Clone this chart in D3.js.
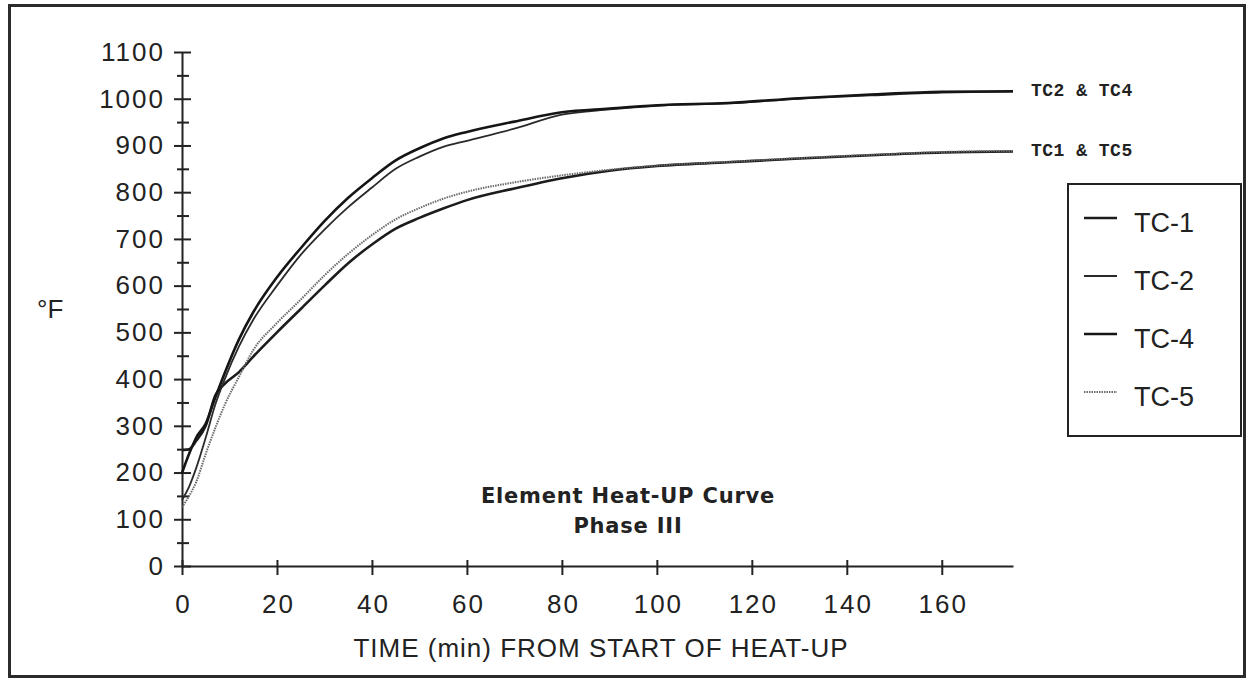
<!DOCTYPE html>
<html>
<head>
    <title>Element Heat-UP Curve</title>
    <script src="https://cdn.jsdelivr.net/npm/d3@7"></script>
    <style>
    body { margin: 0; background: #fff; }
    .axis path, .axis line { stroke: #222; stroke-width: 2; }
    .tick text { font-family: "Liberation Sans", Arial, sans-serif; fill: #222; }
    </style>
</head>
<body>
<div id="canvas"></div>

<script>
    // minutes from start of heat-up, shared by all four thermocouples
    var times = [0, 1.5, 3, 5, 7, 9, 12, 15, 20, 25, 30, 35, 40, 45, 50, 55, 60, 70, 80, 90, 100, 115, 130, 145, 160, 175];

    // temperatures in deg F
    var tc1 = [248, 250, 268, 300, 365, 390, 415, 448, 500, 550, 600, 648, 688, 722, 745, 765, 783, 808, 830, 846, 856, 864, 872, 879, 885, 887];
    var tc2 = [141, 170, 210, 275, 345, 400, 470, 527, 600, 666, 720, 768, 810, 850, 876, 897, 910, 936, 966, 977, 985, 990, 1000, 1007, 1013, 1015];
    var tc4 = [199, 240, 275, 305, 360, 413, 485, 543, 618, 680, 738, 788, 830, 868, 894, 915, 929, 951, 971, 979, 986, 991, 1001, 1009, 1015, 1016];
    var tc5 = [126, 150, 180, 240, 295, 345, 405, 462, 520, 570, 622, 668, 708, 742, 766, 786, 801, 821, 836, 848, 857, 865, 873, 880, 886, 888];

    var seriesNames = ["TC-1", "TC-2", "TC-4", "TC-5"];
    var seriesValues = [tc1, tc2, tc4, tc5];

    var xTicks = [0, 20, 40, 60, 80, 100, 120, 140, 160];
    var yTicks = [0, 100, 200, 300, 400, 500, 600, 700, 800, 900, 1000, 1100];
    var yMinorTicks = [50, 150, 250, 350, 450, 550, 650, 750, 850, 950, 1050];

    var notes = ["TC2 & TC4", "TC1 & TC5"];
    var noteValues = [1016, 888];

    var w = 1247;
    var h = 681;

    // line look for each thermocouple
    var styles = {
        "TC-1": { stroke: "#1c1c1c", width: 2.6, dash: null },
        "TC-2": { stroke: "#2a2a2a", width: 1.8, dash: null },
        "TC-4": { stroke: "#151515", width: 2.6, dash: null },
        "TC-5": { stroke: "#6a6a6a", width: 2, dash: "1.5,1" }
    };

    var svg = d3.select("#canvas")
        .append("svg")
        .attr("width", w)
        .attr("height", h);

    // outer frame
    svg.append("rect")
        .attr("x", 9.5).attr("y", 5.5)
        .attr("width", 1235).attr("height", 671)
        .attr("fill", "none")
        .attr("stroke", "#2b2b2b")
        .attr("stroke-width", 3);

    var x = d3.scaleLinear().domain([0, 175]).range([182, 1013]);
    var y = d3.scaleLinear().domain([0, 1100]).range([566, 52]);

    // y axis, ticks straddle the line
    var yAxis = svg.append("g")
        .attr("class", "axis")
        .attr("transform", "translate(" + x(0) + ",0)")
        .call(d3.axisLeft(y)
            .tickValues(yTicks.concat(yMinorTicks))
            .tickSizeInner(8)
            .tickSizeOuter(0)
            .tickPadding(11)
            .tickFormat(function(d) { return yTicks.indexOf(d) >= 0 ? d : ""; }));
    yAxis.selectAll(".tick line")
        .attr("x1", function(d) { return yTicks.indexOf(d) >= 0 ? 9 : 7; })
        .attr("x2", function(d) { return yTicks.indexOf(d) >= 0 ? -8 : -5; });
    yAxis.selectAll(".tick text")
        .attr("font-size", 26)
        .attr("letter-spacing", 2)
        .attr("dx", 2);

    // x axis
    var xAxis = svg.append("g")
        .attr("class", "axis")
        .attr("transform", "translate(0," + y(0) + ")")
        .call(d3.axisBottom(x)
            .tickValues(xTicks)
            .tickSizeInner(9)
            .tickSizeOuter(0)
            .tickPadding(20)
            .tickFormat(d3.format("d")));
    xAxis.selectAll(".tick line").attr("y1", -6);
    xAxis.selectAll(".tick text")
        .attr("font-size", 26)
        .attr("letter-spacing", 2)
        .attr("dx", 1);

    svg.append("text")
        .attr("x", 601).attr("y", 657)
        .attr("text-anchor", "middle")
        .attr("font-family", "Liberation Sans, Arial, sans-serif")
        .attr("font-size", 26)
        .attr("letter-spacing", 1)
        .attr("fill", "#222")
        .text("TIME (min) FROM START OF HEAT-UP");

    svg.append("text")
        .attr("x", 37).attr("y", 318)
        .attr("font-family", "Liberation Sans, Arial, sans-serif")
        .attr("font-size", 26)
        .attr("fill", "#222")
        .text("°F");

    // the curves
    var line = d3.line()
        .x(function(d) { return x(d[0]); })
        .y(function(d) { return y(d[1]); })
        .curve(d3.curveMonotoneX);

    svg.selectAll("path.curve")
        .data(seriesNames)
        .enter()
        .append("path")
        .attr("class", "curve")
        .attr("fill", "none")
        .attr("stroke", function(d) { return styles[d].stroke; })
        .attr("stroke-width", function(d) { return styles[d].width; })
        .attr("stroke-dasharray", function(d) { return styles[d].dash; })
        .attr("d", function(d, i) {
            return line(times.map(function(t, j) { return [t, seriesValues[i][j]]; }));
        });

    // pair labels at the right end of the curves
    svg.selectAll("text.note")
        .data(notes)
        .enter()
        .append("text")
        .attr("class", "note")
        .attr("x", 1031)
        .attr("y", function(d, i) { return y(noteValues[i]) + 5; })
        .attr("font-family", "Liberation Mono, Courier New, monospace")
        .attr("font-weight", "bold")
        .attr("font-size", 18)
        .attr("letter-spacing", 0.5)
        .attr("fill", "#222")
        .text(function(d) { return d; });

    // chart title inside the plot
    svg.append("text")
        .attr("x", 628).attr("y", 503)
        .attr("text-anchor", "middle")
        .attr("font-family", "DejaVu Sans, sans-serif")
        .attr("font-weight", "bold")
        .attr("font-size", 21)
        .attr("letter-spacing", 0.8)
        .attr("fill", "#222")
        .text("Element Heat-UP Curve");
    svg.append("text")
        .attr("x", 628).attr("y", 533)
        .attr("text-anchor", "middle")
        .attr("font-family", "DejaVu Sans, sans-serif")
        .attr("font-weight", "bold")
        .attr("font-size", 21)
        .attr("letter-spacing", 0.8)
        .attr("fill", "#222")
        .text("Phase III");

    // legend
    var legend = svg.append("g");
    legend.append("rect")
        .attr("x", 1068).attr("y", 184)
        .attr("width", 173).attr("height", 252)
        .attr("fill", "#fff")
        .attr("stroke", "#222")
        .attr("stroke-width", 2);

    var rows = legend.selectAll("g.row")
        .data(seriesNames)
        .enter()
        .append("g")
        .attr("class", "row")
        .attr("transform", function(d, i) { return "translate(0," + (218 + i * 58) + ")"; });
    rows.append("line")
        .attr("x1", 1084).attr("x2", 1117)
        .attr("y1", 0).attr("y2", 0)
        .attr("stroke", function(d) { return styles[d].stroke; })
        .attr("stroke-width", function(d) { return styles[d].width; })
        .attr("stroke-dasharray", function(d) { return styles[d].dash; });
    rows.append("text")
        .attr("x", 1134).attr("y", 14)
        .attr("font-family", "Liberation Sans, Arial, sans-serif")
        .attr("font-size", 27)
        .attr("fill", "#222")
        .text(function(d) { return d; });
</script>
</body>
</html>
